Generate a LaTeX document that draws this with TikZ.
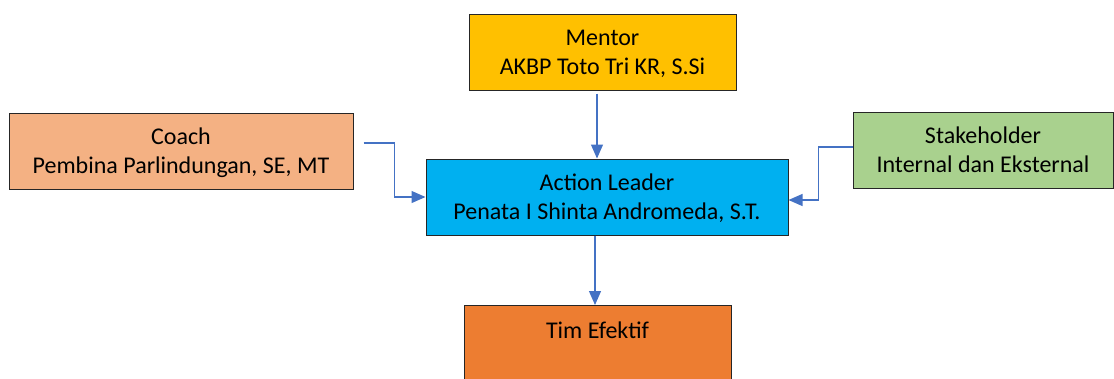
\documentclass[tikz,border=0pt]{standalone}
\usepackage{fontspec}
\setmainfont{Carlito}
\usetikzlibrary{arrows.meta,calc}
\definecolor{mentorc}{HTML}{FFC000}
\definecolor{alc}{HTML}{00B0F0}
\definecolor{coachc}{HTML}{F4B183}
\definecolor{stakec}{HTML}{A9D18E}
\definecolor{timc}{HTML}{ED7D31}
\definecolor{arrc}{HTML}{4472C4}
\definecolor{edgec}{HTML}{262626}
\tikzset{
  box/.style={draw=edgec, line width=1pt, rectangle, align=center, font=\fontsize{24}{29}\selectfont, inner sep=0pt},
  twoline/.style={box, minimum height=76pt, text depth=-6pt},
  conn/.style={draw=arrc, line width=1.2pt, -{Triangle[width=12pt,length=14pt]}, arrc}
}
\begin{document}
\begin{tikzpicture}[x=1pt,y=-1pt]
\useasboundingbox (0,0) rectangle (1114,378);
\node[twoline, fill=mentorc, minimum width=267pt] (mentor) at (602.5,52) {Mentor\\AKBP Toto Tri KR, S.Si};
\node[twoline, fill=alc, minimum width=362pt] (al) at (607,197) {Action Leader\\Penata I Shinta Andromeda, S.T.};
\node[twoline, fill=coachc, minimum width=344pt] (coach) at (181,151) {Coach\\Pembina Parlindungan, SE, MT};
\node[twoline, fill=stakec, minimum width=260pt] (stake) at (983,150) {Stakeholder\\Internal dan Eksternal};
\node[box, fill=timc, minimum width=267pt, anchor=north, text height=20pt, text depth=90pt, inner ysep=13pt] (tim) at (597.5,305) {Tim Efektif};
\coordinate (m1) at ($(mentor.south)+(-5.5,3)$);
\coordinate (m2) at (m1 |- al.north);
\coordinate (t1) at ($(al.south)+(-12,0)$);
\coordinate (t2) at (t1 |- tim.north);
\draw[conn] (m1) -- (m2);
\draw[conn] ($(coach.east)+(10,-8)$) -- ++(31,0) |- (al.west);
\draw[conn] ($(stake.west)+(0,-3)$) -- ++(-34,0) |- ($(al.east)+(0,3)$);
\draw[conn] (t1) -- (t2);
\end{tikzpicture}
\end{document}
